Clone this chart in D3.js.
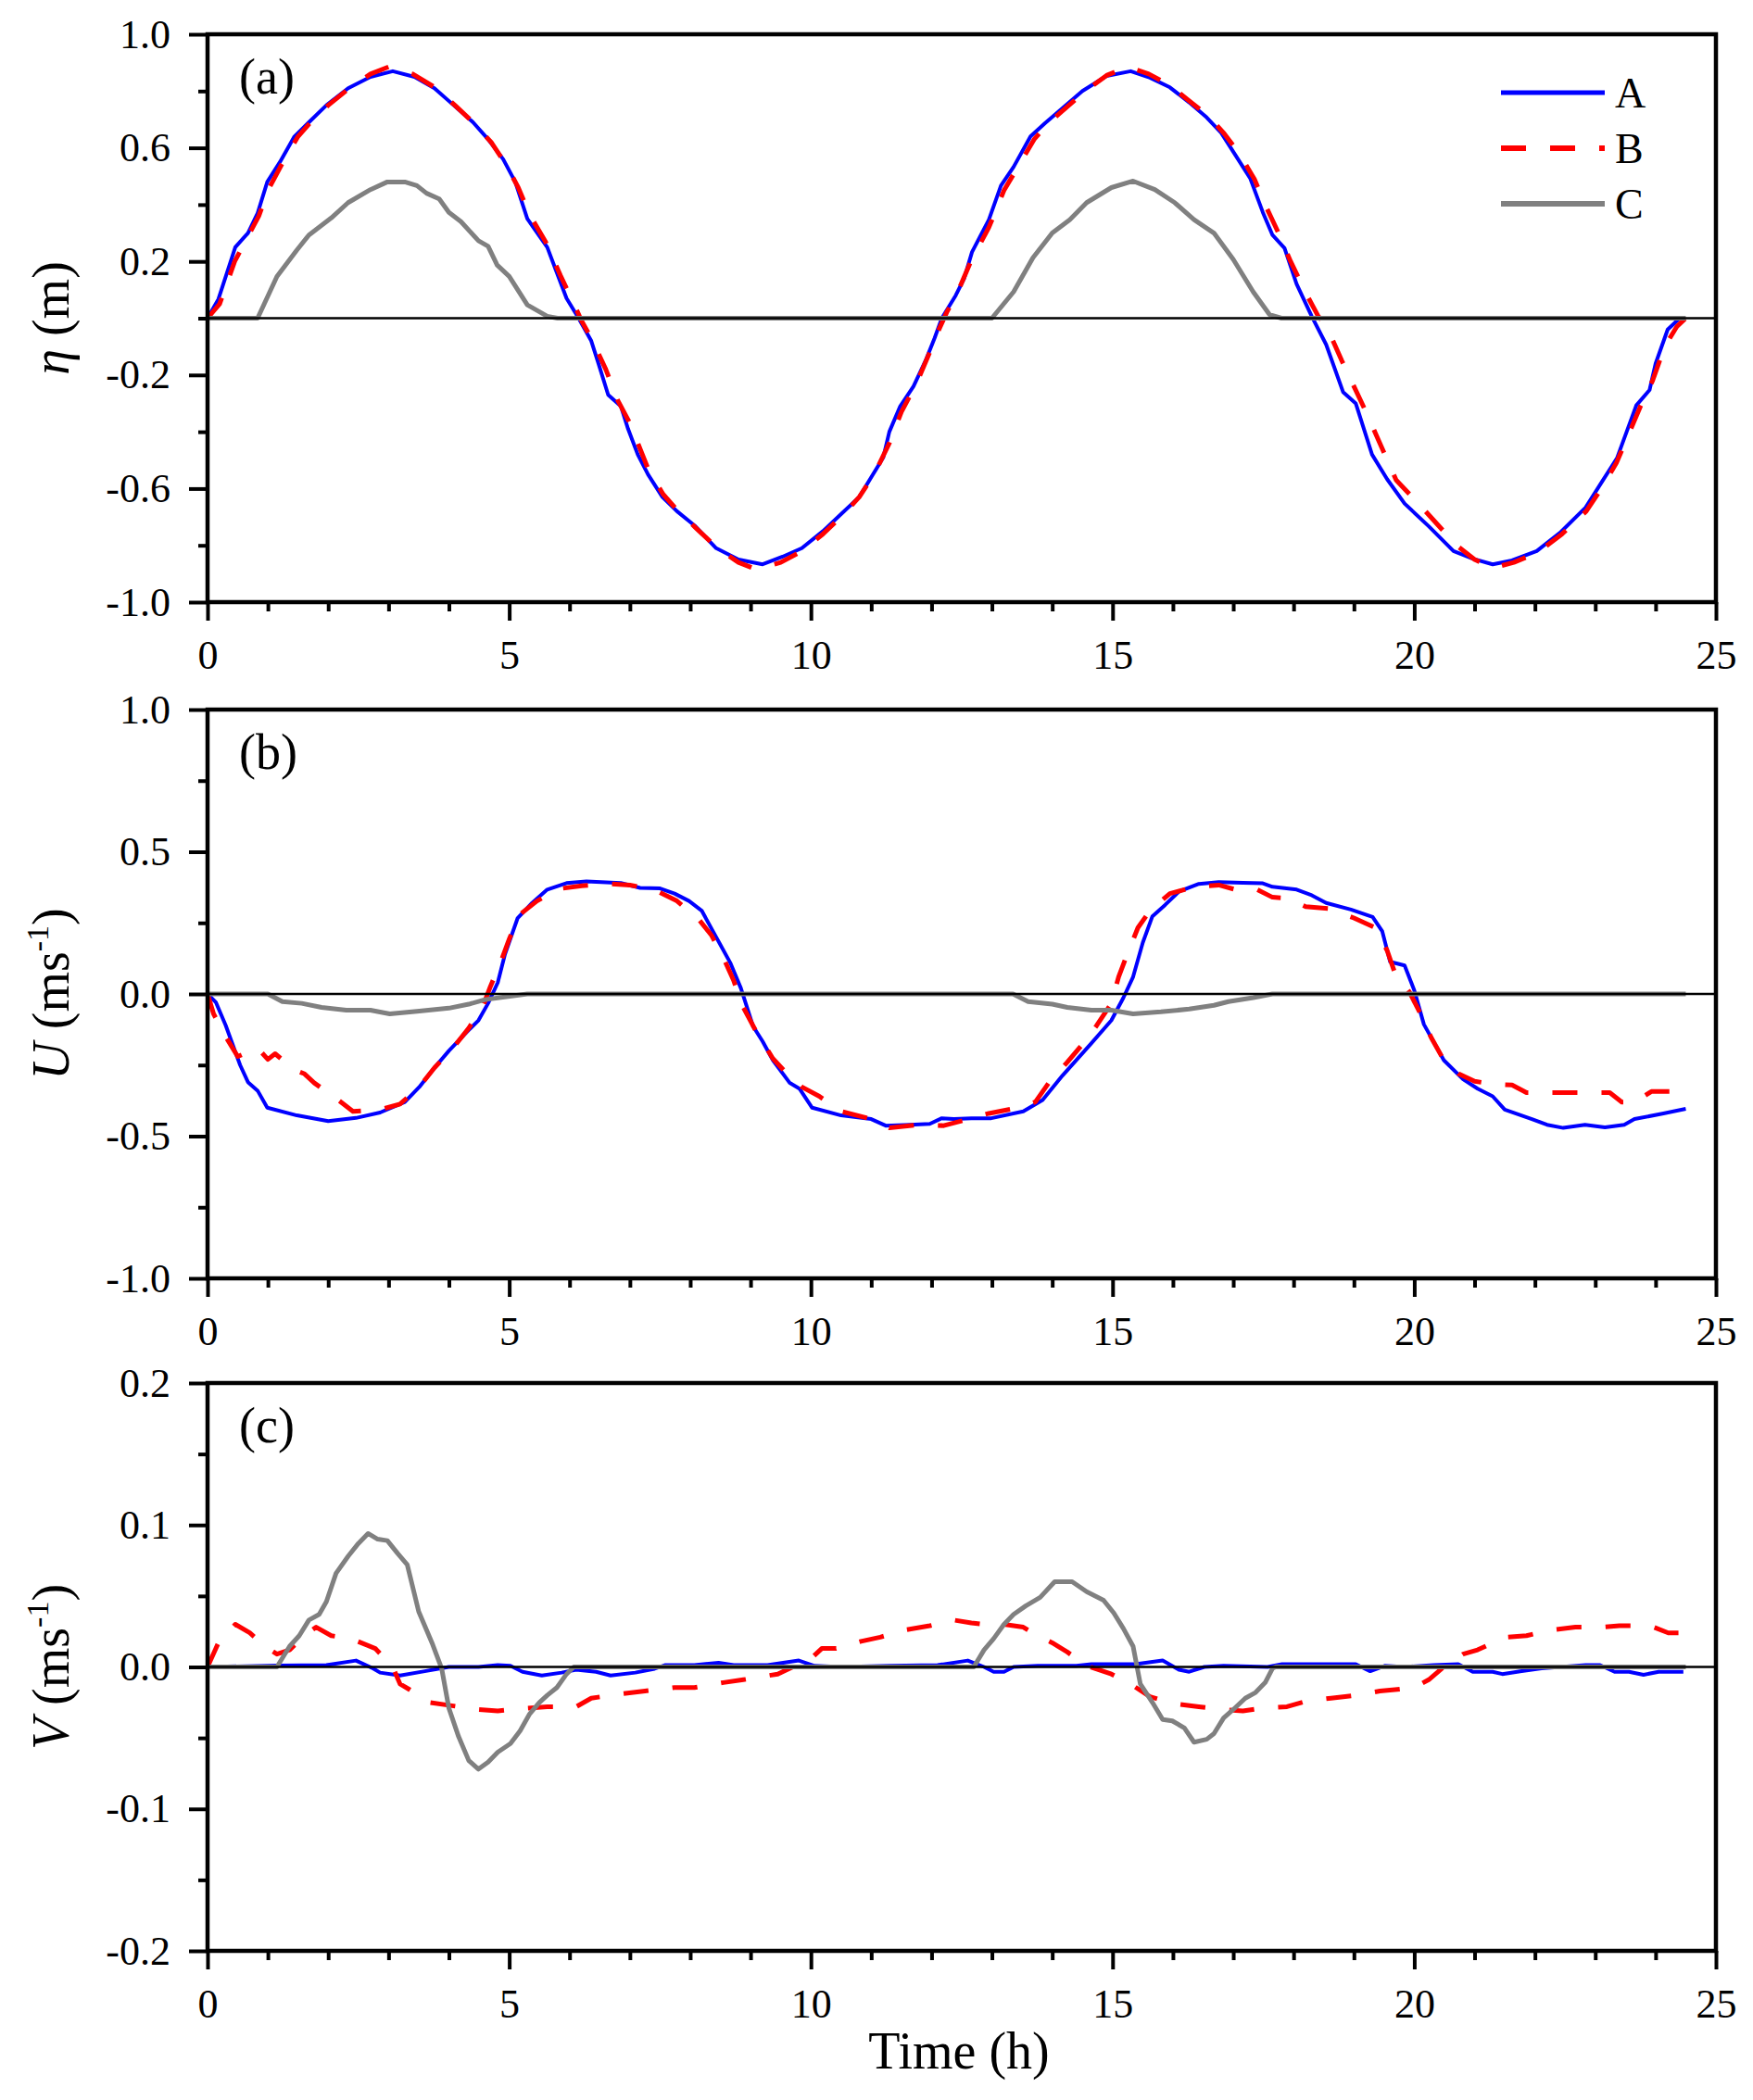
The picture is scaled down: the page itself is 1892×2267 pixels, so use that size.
<!DOCTYPE html>
<html lang="en">
<head>
<meta charset="utf-8">
<title>Tidal elevation and currents</title>
<script src="https://cdn.jsdelivr.net/npm/d3@7"></script>
<style>
  body { margin: 0; background: #fff; }
  svg { display: block; }
  svg text { font-family: "Liberation Serif", serif !important; fill: #000; }
</style>
</head>
<body>
<svg id="svg" width="1892" height="2267"></svg>
<script>
// ---- data: [time (h), value] ----
var etaA = [[0,0],[0.18,0.067],[0.46,0.25],[0.67,0.30],[0.83,0.37],[0.99,0.48],[1.2,0.55],[1.44,0.64],[1.68,0.69],[1.97,0.75],[2.33,0.81],[2.7,0.85],[3.07,0.87],[3.43,0.85],[3.76,0.81],[4.08,0.75],[4.4,0.69],[4.65,0.63],[4.9,0.56],[5.1,0.48],[5.3,0.35],[5.63,0.25],[5.79,0.16],[5.95,0.07],[6.15,0],[6.36,-0.08],[6.48,-0.16],[6.64,-0.27],[6.85,-0.31],[6.97,-0.39],[7.13,-0.48],[7.3,-0.55],[7.54,-0.63],[7.78,-0.68],[8.07,-0.73],[8.43,-0.81],[8.8,-0.85],[9.2,-0.867],[9.53,-0.84],[9.85,-0.81],[10.2,-0.75],[10.5,-0.69],[10.8,-0.63],[11.03,-0.55],[11.2,-0.49],[11.3,-0.40],[11.48,-0.31],[11.7,-0.24],[11.9,-0.15],[12.05,-0.07],[12.17,0],[12.4,0.08],[12.54,0.14],[12.67,0.233],[12.95,0.347],[13.15,0.467],[13.36,0.533],[13.64,0.64],[13.88,0.687],[14.17,0.74],[14.5,0.8],[14.9,0.853],[15.3,0.87],[15.62,0.847],[15.95,0.813],[16.27,0.76],[16.56,0.707],[16.8,0.653],[17.04,0.573],[17.28,0.493],[17.49,0.373],[17.65,0.293],[17.85,0.247],[18.05,0.12],[18.3,0.007],[18.54,-0.093],[18.82,-0.26],[19.03,-0.3],[19.3,-0.48],[19.55,-0.567],[19.84,-0.653],[20.24,-0.733],[20.65,-0.82],[20.97,-0.847],[21.3,-0.867],[21.62,-0.853],[22.03,-0.82],[22.43,-0.753],[22.84,-0.667],[23.12,-0.573],[23.36,-0.493],[23.52,-0.4],[23.68,-0.307],[23.9,-0.253],[24.0,-0.16],[24.2,-0.04],[24.4,0]];
var etaB = [[0,0],[0.2,0.05],[0.45,0.2],[0.7,0.3],[0.85,0.36],[1.0,0.45],[1.25,0.55],[1.5,0.64],[1.75,0.7],[2.0,0.75],[2.35,0.81],[2.7,0.86],[3.0,0.885],[3.4,0.86],[3.75,0.815],[4.1,0.75],[4.4,0.69],[4.7,0.62],[4.95,0.54],[5.15,0.46],[5.35,0.36],[5.6,0.27],[5.85,0.15],[6.05,0.06],[6.2,-0.01],[6.36,-0.07],[6.6,-0.18],[6.8,-0.29],[7.0,-0.37],[7.3,-0.53],[7.55,-0.62],[7.8,-0.68],[8.1,-0.74],[8.45,-0.81],[8.8,-0.86],[9.1,-0.885],[9.5,-0.86],[9.85,-0.82],[10.2,-0.76],[10.5,-0.7],[10.8,-0.63],[11.05,-0.55],[11.3,-0.44],[11.5,-0.33],[11.75,-0.23],[11.95,-0.13],[12.1,-0.05],[12.25,0.02],[12.45,0.1],[12.65,0.2],[12.95,0.32],[13.2,0.45],[13.45,0.54],[13.7,0.63],[13.95,0.69],[14.25,0.745],[14.55,0.8],[14.9,0.855],[15.25,0.885],[15.6,0.86],[15.95,0.82],[16.3,0.76],[16.6,0.71],[16.85,0.65],[17.1,0.58],[17.35,0.49],[17.55,0.39],[17.75,0.3],[17.95,0.2],[18.2,0.09],[18.4,0.01],[18.55,-0.03],[18.8,-0.15],[19.2,-0.33],[19.45,-0.45],[19.7,-0.57],[20.1,-0.66],[20.4,-0.73],[20.7,-0.8],[21.0,-0.85],[21.3,-0.88],[21.65,-0.86],[22.05,-0.825],[22.45,-0.76],[22.85,-0.68],[23.1,-0.6],[23.35,-0.51],[23.55,-0.41],[23.75,-0.31],[23.95,-0.22],[24.15,-0.1],[24.35,-0.03],[24.5,0]];
var etaC = [[0,0],[0.83,0],[1.15,0.147],[1.48,0.24],[1.68,0.293],[2.05,0.353],[2.33,0.407],[2.7,0.453],[2.98,0.48],[3.27,0.48],[3.47,0.467],[3.63,0.44],[3.84,0.42],[4.0,0.373],[4.2,0.34],[4.49,0.273],[4.65,0.253],[4.8,0.187],[5.0,0.147],[5.3,0.047],[5.63,0.007],[5.8,0],[13.0,0],[13.36,0.093],[13.68,0.213],[14.0,0.3],[14.29,0.347],[14.57,0.407],[14.98,0.46],[15.34,0.483],[15.7,0.453],[16.03,0.407],[16.35,0.347],[16.68,0.3],[17.0,0.207],[17.33,0.093],[17.6,0.013],[17.8,0],[24.5,0]];

var uA = [[0,0],[0.14,-0.03],[0.3,-0.11],[0.42,-0.18],[0.54,-0.25],[0.67,-0.31],[0.83,-0.34],[0.99,-0.4],[1.48,-0.427],[2.0,-0.447],[2.46,-0.436],[2.86,-0.417],[3.27,-0.38],[3.51,-0.327],[3.76,-0.26],[4.0,-0.2],[4.33,-0.127],[4.49,-0.093],[4.65,-0.033],[4.81,0.04],[4.93,0.14],[5.14,0.267],[5.38,0.32],[5.63,0.367],[5.95,0.39],[6.28,0.396],[6.85,0.39],[7.17,0.373],[7.5,0.371],[7.74,0.353],[7.98,0.327],[8.19,0.293],[8.43,0.2],[8.67,0.107],[8.84,0.02],[8.92,-0.033],[9.04,-0.113],[9.2,-0.167],[9.37,-0.233],[9.65,-0.313],[9.81,-0.333],[10.02,-0.4],[10.5,-0.427],[11.0,-0.44],[11.24,-0.463],[11.64,-0.46],[11.97,-0.457],[12.17,-0.437],[12.37,-0.44],[12.66,-0.437],[12.99,-0.437],[13.52,-0.413],[13.84,-0.373],[14.17,-0.287],[14.65,-0.173],[14.98,-0.093],[15.18,-0.013],[15.34,0.06],[15.5,0.18],[15.66,0.273],[15.87,0.313],[16.1,0.36],[16.43,0.387],[16.76,0.393],[17.16,0.391],[17.49,0.389],[17.65,0.377],[18.05,0.367],[18.3,0.347],[18.54,0.32],[18.95,0.297],[19.31,0.271],[19.47,0.22],[19.6,0.113],[19.84,0.1],[20.0,0.013],[20.16,-0.107],[20.49,-0.233],[20.81,-0.3],[21.05,-0.333],[21.3,-0.36],[21.5,-0.407],[21.95,-0.44],[22.2,-0.46],[22.47,-0.471],[22.83,-0.46],[23.16,-0.469],[23.48,-0.46],[23.65,-0.44],[24.13,-0.42],[24.5,-0.404]];
var uB = [[0,0],[0.1,-0.07],[0.3,-0.15],[0.5,-0.22],[0.83,-0.19],[1.0,-0.23],[1.12,-0.21],[1.44,-0.267],[1.6,-0.28],[1.77,-0.313],[2.13,-0.367],[2.41,-0.413],[2.86,-0.407],[3.19,-0.387],[3.51,-0.327],[3.76,-0.26],[4.08,-0.187],[4.33,-0.12],[4.57,-0.04],[4.69,0.027],[4.85,0.107],[5.0,0.193],[5.18,0.28],[5.46,0.327],[5.83,0.37],[6.2,0.38],[6.68,0.387],[7.0,0.383],[7.4,0.367],[7.78,0.327],[8.15,0.26],[8.35,0.207],[8.55,0.127],[8.72,0.047],[8.88,-0.047],[9.08,-0.127],[9.37,-0.227],[9.57,-0.273],[9.85,-0.327],[10.14,-0.36],[10.5,-0.413],[11.0,-0.44],[11.3,-0.471],[11.8,-0.46],[12.2,-0.463],[12.54,-0.444],[12.95,-0.42],[13.44,-0.4],[13.72,-0.38],[13.96,-0.307],[14.25,-0.24],[14.49,-0.18],[14.73,-0.113],[14.98,-0.033],[15.1,0.06],[15.22,0.127],[15.42,0.233],[15.62,0.293],[15.95,0.353],[16.35,0.376],[16.76,0.383],[17.04,0.367],[17.4,0.367],[17.65,0.34],[17.89,0.337],[18.2,0.307],[18.6,0.3],[19.0,0.267],[19.35,0.233],[19.55,0.153],[19.68,0.073],[19.92,0.007],[20.08,-0.06],[20.28,-0.153],[20.49,-0.233],[20.73,-0.28],[21.0,-0.307],[21.3,-0.317],[21.62,-0.32],[21.86,-0.347],[22.27,-0.347],[22.67,-0.347],[23.24,-0.347],[23.44,-0.38],[23.65,-0.38],[23.93,-0.343],[24.46,-0.343]];
var uC = [[0,0],[1.0,0],[1.24,-0.027],[1.56,-0.033],[1.89,-0.047],[2.3,-0.057],[2.7,-0.057],[3.02,-0.07],[3.51,-0.06],[4.0,-0.05],[4.33,-0.036],[4.6,-0.02],[4.98,-0.009],[5.3,0],[13.35,0],[13.6,-0.027],[14.0,-0.036],[14.25,-0.047],[14.65,-0.057],[14.98,-0.057],[15.34,-0.07],[15.8,-0.063],[16.27,-0.053],[16.68,-0.04],[16.92,-0.027],[17.33,-0.013],[17.65,0],[24.5,0]];

var vA = [[0,0],[1.15,0.001],[1.97,0.0013],[2.46,0.0045],[2.74,-0.001],[2.86,-0.004],[3.19,-0.006],[3.6,-0.003],[4.0,0],[4.49,0],[4.81,0.0013],[5.02,0.0008],[5.22,-0.0034],[5.54,-0.006],[5.87,-0.004],[6.11,-0.002],[6.44,-0.0034],[6.68,-0.006],[7.09,-0.004],[7.41,-0.0013],[7.58,0.0013],[8.07,0.0013],[8.47,0.003],[8.72,0.0013],[9.28,0.0013],[9.8,0.0045],[10.06,0.0008],[10.5,0],[11.3,0.0008],[12.1,0.0013],[12.6,0.0045],[12.87,0],[13.03,-0.0034],[13.2,-0.0034],[13.36,0],[13.76,0.0008],[14.4,0.0008],[14.65,0.002],[15.38,0.002],[15.83,0.0045],[16.1,-0.002],[16.27,-0.0034],[16.52,0],[16.84,0.0008],[17.57,0],[17.81,0.002],[19.03,0.002],[19.27,-0.003],[19.51,0.0008],[19.84,0],[20.32,0.0013],[20.73,0.002],[20.97,-0.0034],[21.3,-0.0034],[21.46,-0.005],[21.78,-0.003],[22.11,-0.001],[22.84,0.0013],[23.08,0.0013],[23.32,-0.0034],[23.56,-0.0034],[23.8,-0.0055],[24.05,-0.0034],[24.46,-0.0034]];
var vB = [[0,0],[0.18,0.017],[0.46,0.03],[0.7,0.024],[0.95,0.0145],[1.15,0.009],[1.36,0.012],[1.6,0.022],[1.8,0.028],[2.05,0.022],[2.37,0.02],[2.78,0.013],[3.07,0],[3.19,-0.012],[3.35,-0.016],[3.67,-0.025],[4.0,-0.027],[4.49,-0.03],[4.81,-0.031],[5.3,-0.029],[5.63,-0.028],[6.11,-0.028],[6.36,-0.022],[6.85,-0.019],[7.25,-0.017],[7.74,-0.0145],[8.07,-0.0145],[8.55,-0.011],[8.88,-0.009],[9.45,-0.005],[9.7,0],[10.02,0.0066],[10.18,0.013],[10.42,0.013],[10.83,0.018],[11.15,0.021],[11.56,0.026],[11.97,0.029],[12.37,0.033],[12.66,0.031],[12.87,0.03],[13.2,0.03],[13.52,0.028],[13.76,0.022],[14.0,0.017],[14.25,0.0105],[14.57,0.0008],[14.98,-0.005],[15.3,-0.012],[15.62,-0.021],[16.03,-0.026],[16.43,-0.028],[16.84,-0.03],[17.16,-0.031],[17.49,-0.029],[17.89,-0.028],[18.22,-0.024],[18.62,-0.022],[19.03,-0.02],[19.43,-0.017],[19.68,-0.016],[20.0,-0.0145],[20.24,-0.009],[20.49,0],[20.81,0.009],[21.05,0.012],[21.3,0.017],[21.54,0.021],[21.86,0.022],[22.27,0.026],[22.67,0.028],[23.08,0.028],[23.4,0.029],[23.73,0.029],[23.97,0.028],[24.21,0.024],[24.46,0.024]];
var vC = [[0,0],[1.15,0],[1.36,0.0145],[1.52,0.022],[1.68,0.033],[1.85,0.037],[1.97,0.046],[2.13,0.066],[2.33,0.078],[2.5,0.087],[2.66,0.094],[2.82,0.09],[2.98,0.089],[3.15,0.08],[3.31,0.072],[3.5,0.039],[3.72,0.017],[3.88,-0.001],[4.0,-0.029],[4.16,-0.049],[4.33,-0.066],[4.49,-0.072],[4.65,-0.067],[4.81,-0.06],[5.02,-0.054],[5.18,-0.045],[5.34,-0.033],[5.5,-0.025],[5.63,-0.02],[5.79,-0.0145],[5.95,-0.005],[6.07,0],[12.7,0],[12.87,0.012],[13.03,0.02],[13.2,0.03],[13.36,0.037],[13.56,0.043],[13.8,0.049],[14.04,0.06],[14.33,0.06],[14.57,0.053],[14.85,0.047],[15.02,0.038],[15.18,0.027],[15.34,0.0145],[15.46,-0.012],[15.66,-0.025],[15.83,-0.037],[15.99,-0.038],[16.19,-0.043],[16.35,-0.053],[16.56,-0.051],[16.68,-0.047],[16.84,-0.036],[17.0,-0.03],[17.2,-0.022],[17.37,-0.018],[17.53,-0.011],[17.65,-0.001],[17.7,0],[24.5,0]];

var seriesNames = ['A', 'B', 'C'];
var xMajor = [0, 5, 10, 15, 20, 25];
var etaMajor = [-1.0, -0.6, -0.2, 0.2, 0.6, 1.0], etaMinor = [-0.8, -0.4, 0, 0.4, 0.8];
var uMajor = [-1.0, -0.5, 0, 0.5, 1.0], uMinor = [-0.75, -0.25, 0.25, 0.75];
var vMajor = [-0.2, -0.1, 0, 0.1, 0.2], vMinor = [-0.15, -0.05, 0.05, 0.15];

// ---- layout ----
var FONT = '"Liberation Serif", serif';
var svg = d3.select('#svg');
var left = 224, right = 1852;
var styles = [
  { color: '#0000ff', width: 4, dash: null },
  { color: '#ff0000', width: 5, dash: '27,26' },
  { color: '#808080', width: 5, dash: null }
];
var panels = [
  { top: 37,   bottom: 650,  domain: [-1, 1],     major: etaMajor, minor: etaMinor, data: [etaA, etaB, etaC], tag: '(a)', sym: '\u03b7', unit: ' (m)', sup: null },
  { top: 766,  bottom: 1380, domain: [-1, 1],     major: uMajor,   minor: uMinor,   data: [uA, uB, uC],       tag: '(b)', sym: 'U', unit: ' (ms', sup: '-1' },
  { top: 1493, bottom: 2106, domain: [-0.2, 0.2], major: vMajor,   minor: vMinor,   data: [vA, vB, vC],       tag: '(c)', sym: 'V', unit: ' (ms', sup: '-1' }
];

var x = d3.scaleLinear().domain([0, 25]).range([left, right]);
var fmt = function(d) { return d.toFixed(1); };
var xMinor = d3.range(0, 26).filter(function(d) { return d % 5 != 0; });

function styleAxis(a) {
  a.attr('font-family', FONT);
  a.select('.domain').remove();
  a.selectAll('line').attr('stroke-width', 4);
  a.selectAll('text').attr('font-size', 44).style('font-family', FONT);
}

panels.forEach(function(p, pi) {
  var y = d3.scaleLinear().domain(p.domain).range([p.bottom, p.top]);
  var g = svg.append('g');

  // minor ticks
  g.append('g').attr('transform', 'translate(' + left + ',0)')
    .call(d3.axisLeft(y).tickValues(p.minor).tickSize(10).tickFormat(''))
    .call(styleAxis);
  g.append('g').attr('transform', 'translate(0,' + p.bottom + ')')
    .call(d3.axisBottom(x).tickValues(xMinor).tickSize(10).tickFormat(''))
    .call(styleAxis);

  // major ticks + labels
  g.append('g').attr('transform', 'translate(' + left + ',0)')
    .call(d3.axisLeft(y).tickValues(p.major).tickSize(20).tickPadding(20).tickFormat(fmt))
    .call(styleAxis);
  g.append('g').attr('transform', 'translate(0,' + p.bottom + ')')
    .call(d3.axisBottom(x).tickValues(xMajor).tickSize(20).tickPadding(21).tickFormat(d3.format('d')))
    .call(styleAxis);

  // data lines
  var line = d3.line().x(function(d) { return x(d[0]); }).y(function(d) { return y(d[1]); });
  p.data.forEach(function(s, si) {
    var st = styles[si];
    g.append('path').datum(s)
      .attr('d', line)
      .attr('fill', 'none')
      .attr('stroke', st.color)
      .attr('stroke-width', st.width)
      .attr('stroke-linejoin', 'round')
      .attr('stroke-dasharray', st.dash);
  });

  // zero line
  g.append('line')
    .attr('x1', left).attr('x2', right).attr('y1', y(0)).attr('y2', y(0))
    .attr('stroke', '#000').attr('stroke-width', 2.5);

  // frame
  g.append('rect')
    .attr('x', left).attr('y', p.top)
    .attr('width', right - left).attr('height', p.bottom - p.top)
    .attr('fill', 'none').attr('stroke', '#000').attr('stroke-width', 4.5);

  // panel tag
  g.append('text').attr('x', 258).attr('y', p.top + 64)
    .attr('font-size', 54).style('font-family', FONT).text(p.tag);

  // y title
  var mid = (p.top + p.bottom) / 2;
  var t = g.append('text')
    .attr('transform', 'translate(74,' + mid + ') rotate(-90)')
    .attr('text-anchor', 'middle')
    .attr('font-size', 56)
    .style('font-family', FONT);
  t.append('tspan').attr('font-style', 'italic').text(p.sym);
  t.append('tspan').text(p.unit);
  if (p.sup) {
    t.append('tspan').attr('font-size', 34).attr('dy', -22).text(p.sup);
    t.append('tspan').attr('dy', 22).text(')');
  }

  // legend in panel (a)
  if (pi == 0) {
    var lg = g.append('g');
    seriesNames.forEach(function(name, i) {
      var st = styles[i];
      var ly = 100 + i * 60;
      lg.append('line')
        .attr('x1', 1620).attr('x2', 1732).attr('y1', ly).attr('y2', ly)
        .attr('stroke', st.color).attr('stroke-width', st.width + 1)
        .attr('stroke-dasharray', st.dash);
      lg.append('text').attr('x', 1743).attr('y', ly + 16)
        .attr('font-size', 46).style('font-family', FONT).text(name);
    });
  }
});

// x title
svg.append('text')
  .attr('x', 1035).attr('y', 2233)
  .attr('text-anchor', 'middle')
  .attr('font-size', 56)
  .style('font-family', FONT)
  .text('Time (h)');
</script>
</body>
</html>
